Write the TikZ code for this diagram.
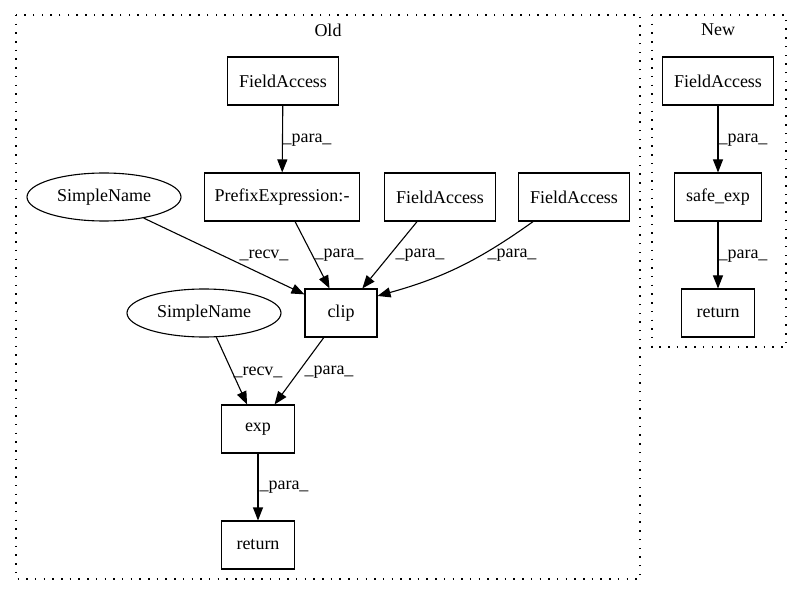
\documentclass[tikz,border=0pt]{standalone}
\usepackage{fontspec}
\setmainfont{Liberation Serif}
\usetikzlibrary{arrows.meta,shapes.geometric}
\begin{document}
\begin{tikzpicture}[x=1pt,y=-1pt,
  every node/.style={font=\fontsize{18}{22}\selectfont},
  box/.style={draw,line width=1.1pt,rectangle,minimum height=48pt,inner sep=0pt},
  oval/.style={draw,line width=1.1pt,ellipse,minimum width=154pt,minimum height=48pt,inner sep=0pt},
  cluster/.style={draw,line width=1.3pt,dash pattern=on 1.5pt off 7.2pt},
  edge/.style={draw,line width=1.1pt,-{Triangle[length=13pt,width=10pt]}},
  lbl/.style={inner sep=0pt}
]
\useasboundingbox (0,0) rectangle (801,596);
% clusters
\draw[cluster] (16,15) rectangle (640,579);
\draw[cluster] (652,15) rectangle (786,347);
\node[lbl] (told) at (328,30) {Old};
\node[lbl] (tnew) at (718,30) {New};
% Old nodes
\node[box,minimum width=111pt] (fa1) at (283,81) {FieldAccess};
\node[box,minimum width=155pt] (pre) at (282,197) {PrefixExpression:-};
\node[oval] (sn1) at (104,197) {SimpleName};
\node[box,minimum width=111pt] (fa2) at (440,197) {FieldAccess};
\node[box,minimum width=111pt] (fa3) at (574,197) {FieldAccess};
\node[box,minimum width=72pt] (clip) at (341,313) {clip};
\node[oval] (sn2) at (204,313) {SimpleName};
\node[box,minimum width=73pt] (exp) at (258,429) {exp};
\node[box,minimum width=73pt] (ret) at (258,545) {return};
% New nodes
\node[box,minimum width=111pt] (nfa) at (718,81) {FieldAccess};
\node[box,minimum width=87pt] (safe) at (718,197) {safe\_exp};
\node[box,minimum width=73pt] (nret) at (718,313) {return};
% edges
\draw[edge] (fa1) -- (pre);
\draw[edge] (sn1.-28) -- (clip.153);
\draw[edge] (pre.-62) -- (clip.115);
\draw[edge] (fa2.227) -- (clip.49);
\draw[edge] (fa3.211) to[bend left=10] (clip.25);
\draw[edge] (sn2.-63) -- (exp.114);
\draw[edge] (clip.235) -- (exp.56);
\draw[edge] (exp) -- (ret);
\draw[edge] (nfa) -- (safe);
\draw[edge] (safe) -- (nret);
% labels
\node[lbl] (l1) at (307,140) {\_para\_};
\node[lbl] (l2) at (264,255) {\_recv\_};
\node[lbl] (l3) at (339,255) {\_para\_};
\node[lbl] (l4) at (420,255) {\_para\_};
\node[lbl] (l5) at (512,255) {\_para\_};
\node[lbl] (l6) at (258,372) {\_recv\_};
\node[lbl] (l7) at (329,372) {\_para\_};
\node[lbl] (l8) at (284,487) {\_para\_};
\node[lbl] (l9) at (743,140) {\_para\_};
\node[lbl] (l10) at (743,256) {\_para\_};
\end{tikzpicture}
\end{document}
